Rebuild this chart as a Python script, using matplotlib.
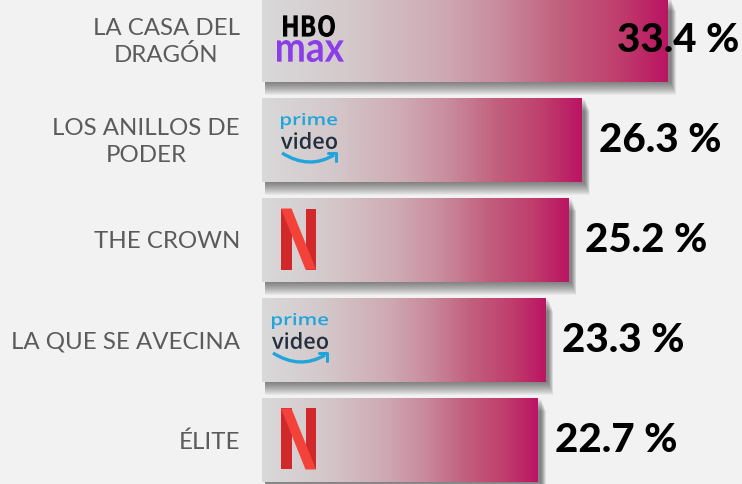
import matplotlib.pyplot as plt
import numpy as np
from matplotlib.colors import LinearSegmentedColormap
from matplotlib.patches import Rectangle, Polygon, PathPatch
from matplotlib.path import Path
from matplotlib.textpath import TextPath
from matplotlib.font_manager import FontProperties
from matplotlib.transforms import Affine2D

shows = ['LA CASA DEL\nDRAGÓN', 'LOS ANILLOS DE\nPODER', 'THE CROWN',
         'LA QUE SE AVECINA', 'ÉLITE']
shares = [33.4, 26.3, 25.2, 23.3, 22.7]
platforms = ['hbo', 'prime', 'netflix', 'prime', 'netflix']

# pixel -> data helpers
SX = 12.15   # px per share unit
SY = 100.0   # px per row
px = lambda p: p / SX
py = lambda p: p / SY

bg = '#f2f2f2'
cmap = LinearSegmentedColormap.from_list('bar', [
    (0.00, '#d9d9d9'), (0.22, '#d4c8cb'), (0.44, '#cfaab5'), (0.59, '#c98a9d'),
    (0.73, '#c2617f'), (0.88, '#bf3e6c'), (1.00, '#bb1463')])

fig = plt.figure(figsize=(7.42, 4.84), dpi=100, facecolor=bg)
ax = fig.add_axes([0, 0, 1, 1])
ax.set_facecolor(bg)
ax.set_axis_off()

bar_h = 0.84
grad = np.linspace(0, 1, 256).reshape(1, -1)


def fit_text(s, x0, x1, y0, y1, color, family, weight):
    """Draw text s as a path stretched into the pixel box (x0..x1, y0..y1) in data units."""
    tp = TextPath((0, 0), s, size=10, prop=FontProperties(family=family, weight=weight))
    ext = tp.get_extents()
    tr = (Affine2D().translate(-ext.x0, -ext.y1)
          .scale((x1 - x0) / ext.width, -(y1 - y0) / ext.height)
          .translate(x0, y0))
    ax.add_patch(PathPatch(tr.transform_path(tp), fc=color, ec='none', lw=0, zorder=6))


def draw_netflix(x0, yc):
    w, h = px(35), py(61)
    top, bot = yc - h / 2, yc + h / 2
    s = 0.3 * w
    ax.add_patch(Rectangle((x0, top), s, h, color='#d0282b', zorder=5, lw=0))
    ax.add_patch(Rectangle((x0 + w - s, top), s, h, color='#d0282b', zorder=5, lw=0))
    ax.add_patch(Polygon([(x0, top), (x0 + s, top), (x0 + w, bot), (x0 + w - s, bot)],
                         closed=True, color='#f3423a', zorder=6, lw=0))


def draw_prime(x0, yc):
    w = px(56)
    fit_text('prime', x0, x0 + w, yc - py(27), yc - py(11), '#1fa5dc', 'Open Sans', 'semibold')
    fit_text('video', x0, x0 + w, yc - py(8), yc + py(9), '#232f3e', 'Open Sans', 'semibold')
    ys = yc + py(13)
    verts = [(x0 + px(1), ys), (x0 + w * 0.5, ys + py(17)), (x0 + w - px(3), ys + py(2))]
    ax.add_patch(PathPatch(Path(verts, [Path.MOVETO, Path.CURVE3, Path.CURVE3]),
                           fc='none', ec='#1fa5dc', lw=2.4, zorder=6))
    ax.plot([x0 + w - px(9), x0 + w - px(1), x0 + w - px(1)],
            [ys + py(0), ys + py(0), ys + py(8)], color='#1fa5dc', lw=2.2, zorder=6,
            solid_capstyle='round', solid_joinstyle='round')


def draw_hbo(x0, yc):
    fit_text('HBO', x0 + px(21), x0 + px(73), yc - py(25), yc - py(3), 'black',
             'DejaVu Sans', 'bold')
    fit_text('max', x0 + px(15), x0 + px(82), yc + py(0), yc + py(22), '#8b3ee8',
             'Lato', 'bold')


for i, (name, v, plat) in enumerate(zip(shows, shares, platforms)):
    top = i - bar_h / 2
    bot = i + bar_h / 2
    # soft shadow below / right of the bar
    for k in range(1, 14):
        ax.add_patch(Rectangle((px(3), top + py(k)), v + px(k * 0.4), bar_h,
                               color='black', alpha=0.045, lw=0, zorder=1))
    ax.add_patch(Rectangle((0, top), v, bar_h, color=bg, lw=0, zorder=2))
    ax.imshow(grad, cmap=cmap, extent=(0, v, bot, top), aspect='auto',
              interpolation='bicubic', zorder=3)

    ax.text(px(-22), i + py(2), name, ha='right', va='center', multialignment='center',
            fontsize=17.3, color='#5b5b5b', family='Lato', linespacing=1.3)

    label = f'{v} %'
    if 262 + v * SX + 17 + 125 > 742:
        ax.text(px(480 - 3), i + py(1), label, ha='right', va='center',
                fontsize=29, fontweight='black', family='Lato', color='black', zorder=7)
    else:
        ax.text(v + px(17), i + py(1), label, ha='left', va='center',
                fontsize=29, fontweight='black', family='Lato', color='black', zorder=7)

    if plat == 'netflix':
        draw_netflix(px(19), i - py(1))
    elif plat == 'prime':
        draw_prime(px(19 if i == 1 else 10), i)
    else:
        draw_hbo(0, i)

ax.set_xlim(px(-262), px(480))
ax.set_ylim(py(444), py(-40))

fig.savefig('out.png', dpi=100, facecolor=bg)
